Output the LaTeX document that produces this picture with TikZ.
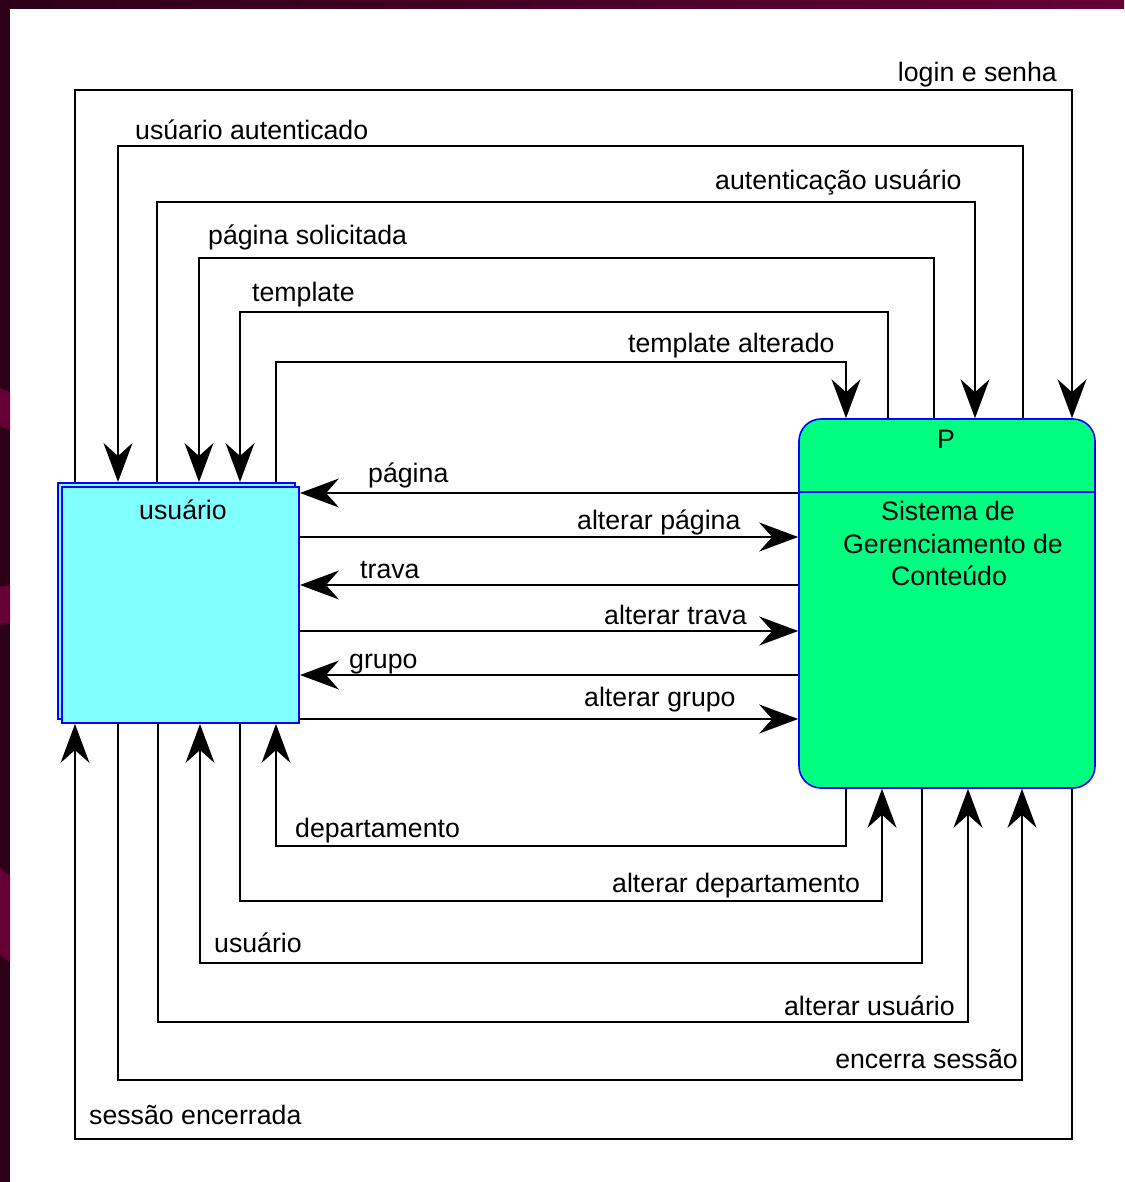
\documentclass[tikz,border=0pt]{standalone}
\usepackage{fontspec}
\setmainfont{Liberation Sans}
\usetikzlibrary{arrows.meta}
\definecolor{maroonD}{HTML}{2E0018}
\definecolor{maroonL}{HTML}{640034}
\definecolor{entfill}{HTML}{80FFFF}
\definecolor{procfill}{HTML}{00FF80}
\definecolor{edgeblue}{HTML}{0000FF}
\begin{document}
\begin{tikzpicture}[x=1pt,y=-1pt,
  flow/.style={draw=black,line width=1.5pt,-{Stealth[length=39pt,width=29pt,inset=13pt]}},
  txt/.style={inner sep=0pt,font=\fontsize{26.7pt}{32pt}\selectfont},
  lbl/.style={txt,anchor=base west},
  lble/.style={txt,anchor=base east},
  ctr/.style={txt,anchor=base},
  entity/.style={draw=edgeblue,fill=entfill,line width=2pt,minimum width=237pt,minimum height=236pt,inner sep=0pt},
  process/.style={draw=edgeblue,fill=procfill,line width=1.6pt,rounded corners=22pt,minimum width=296pt,minimum height=369pt,inner sep=0pt}
]
\useasboundingbox (0,0) rectangle (1124,1182);
\fill[white] (0,0) rectangle (1124,1182);
% background strips
\fill[maroonD] (0,0) rectangle (10,1182);
\fill[maroonL] (0,388) -- (10,392) -- (10,430) -- (0,426) -- cycle;
\fill[maroonL] (0,587) -- (10,585) -- (10,622) -- (0,625) -- cycle;
\fill[maroonL] (0,868) -- (10,876) -- (10,962) -- (0,955) -- cycle;
\shade[left color=maroonD,right color=maroonL] (0,0) rectangle (1124,9);

% boxes
\node[entity] (Ub) at (176.5,601) {};
\node[entity] (U) at (180.5,605) {};
\node[ctr] (Ulbl) at (183,519) {usuário};
\node[process] (P) at (947,603.5) {};
\coordinate (pdiv) at (0,492);
\draw[edgeblue,line width=1.6pt] (P.west |- pdiv) -- (P.east |- pdiv);
\node[ctr] (Plbl) at (946,448) {P};
\node[ctr] (Pl1) at (948,520) {Sistema de};
\node[ctr] (Pl2) at (953,553) {Gerenciamento de};
\node[ctr] (Pl3) at (949,585.5) {Conteúdo};

% top connectors
\coordinate (a1) at (75,90);   \coordinate (b1) at (1072,90);
\draw[flow] (Ub.north -| a1) -- (a1) -- (b1) -- (P.north -| b1);
\node[lble] (l1) at (1057,82) {login e senha};

\coordinate (a2) at (1023,146); \coordinate (b2) at (118,146);
\draw[flow] (P.north -| a2) -- (a2) -- (b2) -- (Ub.north -| b2);
\node[lbl] (l2) at (135,139.5) {usúario autenticado};

\coordinate (a3) at (157,202); \coordinate (b3) at (975,202);
\draw[flow] (Ub.north -| a3) -- (a3) -- (b3) -- (P.north -| b3);
\node[lbl] (l3) at (715,190) {autenticação usuário};

\coordinate (a4) at (934,258); \coordinate (b4) at (199,258);
\draw[flow] (P.north -| a4) -- (a4) -- (b4) -- (Ub.north -| b4);
\node[lbl] (l4) at (208,244) {página solicitada};

\coordinate (a5) at (888,312); \coordinate (b5) at (240,312);
\draw[flow] (P.north -| a5) -- (a5) -- (b5) -- (Ub.north -| b5);
\node[lbl] (l5) at (252,301) {template};

\coordinate (a6) at (276,362); \coordinate (b6) at (846,362);
\draw[flow] (Ub.north -| a6) -- (a6) -- (b6) -- (P.north -| b6);
\node[lbl] (l6) at (628,352) {template alterado};

% horizontal connectors
\coordinate (r1) at (0,493);
\draw[flow] (P.west |- r1) -- (U.east |- r1);
\node[lbl] (h1) at (368,482) {página};
\coordinate (r2) at (0,537);
\draw[flow] (U.east |- r2) -- (P.west |- r2);
\node[lbl] (h2) at (577,529) {alterar página};
\coordinate (r3) at (0,585);
\draw[flow] (P.west |- r3) -- (U.east |- r3);
\node[lbl] (h3) at (360,578) {trava};
\coordinate (r4) at (0,631);
\draw[flow] (U.east |- r4) -- (P.west |- r4);
\node[lbl] (h4) at (604,624) {alterar trava};
\coordinate (r5) at (0,675);
\draw[flow] (P.west |- r5) -- (U.east |- r5);
\node[lbl] (h5) at (349,668) {grupo};
\coordinate (r6) at (0,719);
\draw[flow] (U.east |- r6) -- (P.west |- r6);
\node[lbl] (h6) at (584,706) {alterar grupo};

% bottom connectors
\coordinate (a7) at (846,846); \coordinate (b7) at (276,846);
\draw[flow] (P.south -| a7) -- (a7) -- (b7) -- (U.south -| b7);
\node[lbl] (d1) at (295,837) {departamento};

\coordinate (a8) at (240,901); \coordinate (b8) at (882,901);
\draw[flow] (U.south -| a8) -- (a8) -- (b8) -- (P.south -| b8);
\node[lbl] (d2) at (612,892) {alterar departamento};

\coordinate (a9) at (922,963); \coordinate (b9) at (200,963);
\draw[flow] (P.south -| a9) -- (a9) -- (b9) -- (U.south -| b9);
\node[lbl] (d3) at (214,952) {usuário};

\coordinate (a10) at (158,1022); \coordinate (b10) at (968,1022);
\draw[flow] (U.south -| a10) -- (a10) -- (b10) -- (P.south -| b10);
\node[lble] (d4) at (955,1015) {alterar usuário};

\coordinate (a11) at (118,1080); \coordinate (b11) at (1022,1080);
\draw[flow] (U.south -| a11) -- (a11) -- (b11) -- (P.south -| b11);
\node[lble] (d5) at (1018,1068) {encerra sessão};

\coordinate (a12) at (1072,1139); \coordinate (b12) at (75,1139);
\draw[flow] (P.south -| a12) -- (a12) -- (b12) -- (U.south -| b12);
\node[lbl] (d6) at (89,1124) {sessão encerrada};
\end{tikzpicture}
\end{document}
